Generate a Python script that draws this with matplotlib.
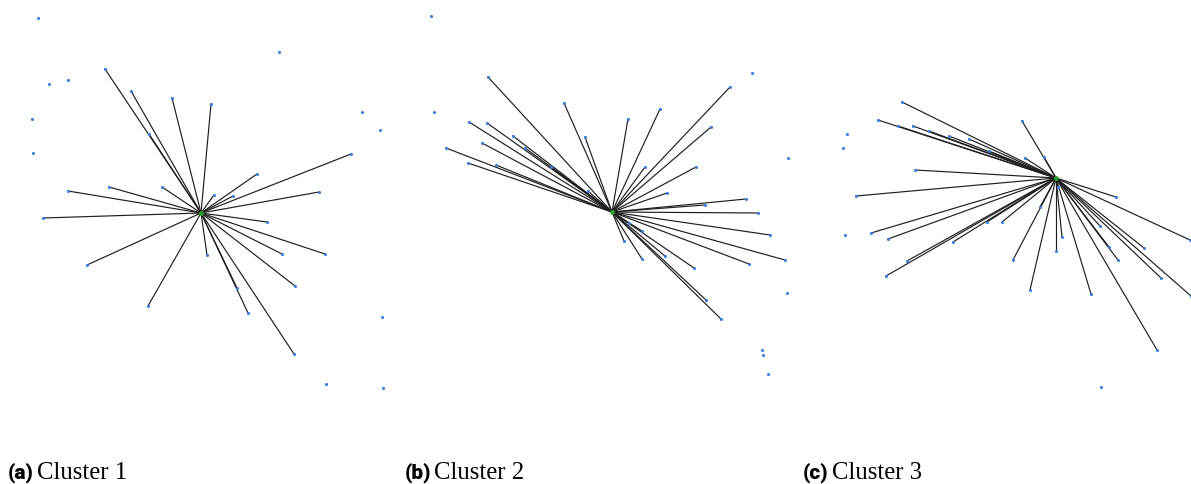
import matplotlib
matplotlib.use("Agg")
import matplotlib.pyplot as plt

W, H = 1191, 485

# node layouts (pixel-like layout coordinates, y grows downward)
hub_a = (201, 214)
leaves_a = [(105, 70), (131, 92), (172, 99), (211, 105), (149, 135), (351, 155),
            (257, 175), (68, 192), (109, 188), (162, 188), (214, 196), (233, 197),
            (319, 193), (43, 219), (267, 223), (87, 266), (207, 256), (282, 255),
            (325, 255), (295, 287), (237, 289), (148, 307), (248, 314), (294, 355)]
lone_a = [(38, 19), (279, 53), (49, 85), (68, 81), (32, 120), (33, 154),
          (362, 113), (380, 131), (382, 318), (326, 385), (383, 389)]

hub_b = (612, 213)
leaves_b = [(488, 78), (730, 88), (564, 104), (660, 110), (628, 120), (711, 128),
            (469, 123), (487, 124), (585, 138), (513, 137), (482, 144), (525, 149),
            (446, 149), (645, 168), (696, 168), (468, 164), (496, 166), (551, 168),
            (588, 192), (667, 194), (746, 200), (705, 206), (758, 214), (770, 236),
            (785, 261), (749, 265), (629, 224), (642, 232), (624, 242), (642, 260),
            (665, 257), (694, 269), (706, 301), (721, 320)]
lone_b = [(431, 17), (752, 74), (434, 113), (788, 159), (787, 294), (762, 351),
          (763, 356), (768, 375)]

hub_c = (1056, 179)
leaves_c = [(902, 103), (878, 121), (898, 127), (913, 127), (929, 132), (949, 137),
            (969, 140), (989, 152), (1022, 122), (1044, 158), (1025, 159), (915, 171),
            (856, 197), (1116, 198), (1058, 188), (1040, 208), (871, 234), (888, 240),
            (987, 223), (1002, 223), (953, 243), (907, 262), (886, 277), (1013, 261),
            (1056, 252), (1062, 238), (1100, 227), (1109, 248), (1118, 261), (1144, 249),
            (1161, 279), (1190, 241), (1191, 297), (1030, 291), (1091, 295), (1157, 351)]
lone_c = [(847, 135), (843, 149), (845, 236), (1101, 388)]

panels = [
    ("(a)", "Cluster 1", hub_a, leaves_a, lone_a, 0, 397),
    ("(b)", "Cluster 2", hub_b, leaves_b, lone_b, 397, 398),
    ("(c)", "Cluster 3", hub_c, leaves_c, lone_c, 795, 396),
]

node_blue = "#3a7ee0"
fig = plt.figure(figsize=(W / 100, H / 100), dpi=100)

for tag, name, hub, leaves, lone, x0, w in panels:
    ax = fig.add_axes([x0 / W, 0, w / W, 1])
    ax.set_xlim(x0, x0 + w)
    ax.set_ylim(H, 0)
    ax.axis("off")
    for lx, ly in leaves:
        ax.plot([hub[0], lx], [hub[1], ly], color="#1e1e1e", lw=0.85, zorder=1)
    xs = [p[0] for p in leaves + lone]
    ys = [p[1] for p in leaves + lone]
    ax.scatter(xs, ys, s=5, color=node_blue, lw=0, zorder=2)
    ax.scatter([hub[0]], [hub[1]], s=12, color="#2ca02c", lw=0, zorder=3)
    ax.text(x0 + 8, 473, tag, fontsize=15, fontweight="heavy",
            family="Roboto", va="center", ha="left")
    ax.text(x0 + 37, 473, name, fontsize=17.8, family="Liberation Serif",
            va="center", ha="left")

fig.savefig("out.png", dpi=100)
